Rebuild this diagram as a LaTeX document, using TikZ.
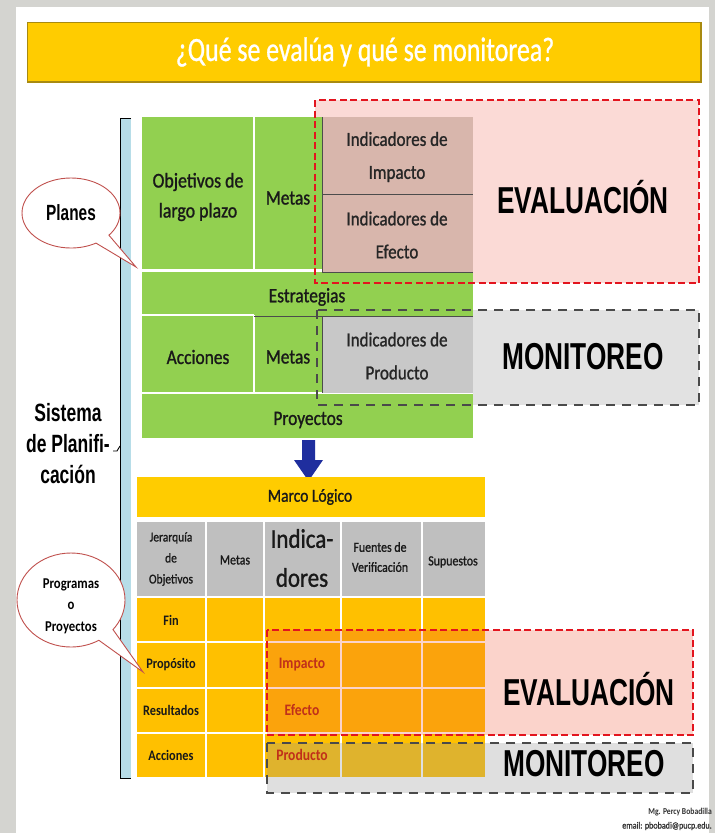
\documentclass[tikz,border=0pt]{standalone}
\usepackage{fontspec}
\usetikzlibrary{shapes.callouts,shapes.geometric}
\newfontfamily\calf[FakeStretch=0.85,FakeBold=1.1]{Carlito}
\newfontfamily\calb[FakeStretch=0.85]{Carlito Bold}
\newfontfamily\titlef[FakeStretch=0.76,FakeBold=0.8]{Carlito}
\newfontfamily\arn[FakeStretch=0.7]{Liberation Sans}
\definecolor{frame}{HTML}{D4D4D0}
\definecolor{gold}{HTML}{FFCC00}
\definecolor{goldedge}{HTML}{A88A10}
\definecolor{grn}{HTML}{92D050}
\definecolor{yel}{HTML}{FFC000}
\definecolor{hdr}{HTML}{BFBFBF}
\definecolor{pinkbox}{HTML}{FBDAD6}
\definecolor{pinkcell}{HTML}{D8B6AC}
\definecolor{monbox}{HTML}{E2E2E2}
\definecolor{moncell}{HTML}{C8C8C8}
\definecolor{dred}{HTML}{E3141E}
\definecolor{dgray}{HTML}{4A4A4A}
\definecolor{calred}{HTML}{C0504D}
\definecolor{lblue}{HTML}{B7DDE8}
\definecolor{arrowblue}{HTML}{1F2E9E}
\definecolor{redtxt}{HTML}{C0301A}
\definecolor{evalov}{HTML}{F05030}
\definecolor{monov}{HTML}{969696}
\begin{document}
\begin{tikzpicture}[x=1pt,y=-1pt,
  gtxt/.style={font=\calf\fontsize{20.5}{30}\selectfont, text=black!90, align=center, inner sep=0pt},
  itxt/.style={font=\calf\fontsize{20}{33}\selectfont, text=black!85, align=center, inner sep=0pt},
  big/.style={font=\arn\bfseries\fontsize{37.5}{40}\selectfont, text=black, inner sep=0pt},
  htxt/.style={font=\calf\fontsize{14}{21}\selectfont, text=black!90, align=center, inner sep=0pt},
  btxt/.style={font=\calb\fontsize{14.5}{18}\selectfont, text=black!90, inner sep=0pt},
  rtxt/.style={font=\calb\fontsize{16}{18}\selectfont, text=redtxt, inner sep=0pt},
  reddash/.style={draw=dred, line width=2.6pt, dash pattern=on 7pt off 3.5pt},
  graydash/.style={draw=dgray, line width=2.6pt, dash pattern=on 9pt off 7pt},
  sep/.style={draw=white, line width=1.3pt},
  dark/.style={draw=black!70, line width=0.9pt},
  callout/.style={ellipse callout, draw=calred, fill=white, line width=0.9pt, callout pointer arc=20, inner sep=0pt}
]
\useasboundingbox (0,0) rectangle (715,833);
% frame
\fill[frame] (0,0) rectangle (715,833);
\fill[white] (16,7) rectangle (709,833);
% title
\fill[goldedge] (27,22) rectangle (702,83);
\fill[gold] (28,23) rectangle (700,81);
\node[font=\titlef\fontsize{34}{40}\selectfont, text=white, inner sep=0pt] (title) at (365,52) {¿Qué se evalúa y qué se monitorea?};
% bracket
\fill[lblue] (121,118) rectangle (131,778);
\draw[line width=0.9pt] (131,118) -- (120,118) -- (120,778) -- (131,778);
\coordinate (bmid) at (120,446);
% top boxes fill
\fill[pinkbox] (315,100) rectangle (699,283);
\fill[monbox] (317,310) rectangle (699,405);
% green table
\fill[grn] (142,117) rectangle (473,438);
\draw[sep] (254,117) -- (254,270);
\draw[draw=white, line width=3pt] (142,270) -- (473,270);
\draw[sep] (142,315) -- (254,315);
\draw[sep] (254,315) -- (254,393);
\draw[sep] (142,393) -- (473,393);
\fill[pinkcell] (322,117) rectangle (473,272);
\draw[dark] (322,117) -- (322,272);
\draw[dark] (322,194) -- (473,194);
\draw[dark] (322,272) -- (473,272);
\fill[moncell] (322,317) rectangle (473,393);
\draw[dark] (254,316) -- (473,316);
\draw[dark] (322,316) -- (322,393);
\draw[reddash] (315,100) rectangle (699,283);
\draw[graydash] (317,310) rectangle (699,405);
% green texts
\node[gtxt, font=\calf\fontsize{21}{30}\selectfont] (obj) at (198,197) {Objetivos de\\largo plazo};
\node[gtxt] (metas1) at (288,198) {Metas};
\node[itxt] (ind1) at (397,157) {Indicadores de\\Impacto};
\node[itxt] (ind2) at (397,235) {Indicadores de\\Efecto};
\node[gtxt] (estr) at (307,297) {Estrategias};
\node[gtxt] (acc) at (198,357) {Acciones};
\node[gtxt] (metas2) at (288,357) {Metas};
\node[itxt] (ind3) at (397,356) {Indicadores de\\Producto};
\node[gtxt] (proy) at (308,420) {Proyectos};
\node[big] (eval1) at (583,197) {EVALUACIÓN};
\node[big] (mon1) at (583,357) {MONITOREO};
% arrow
\fill[arrowblue] (302,440) -- (315,440) -- (315,460) -- (323,460) -- (308.5,481) -- (294,460) -- (302,460) -- cycle;
% marco logico table
\fill[gold] (137,477) rectangle (485,517);
\fill[hdr] (137,522) rectangle (485,596);
\fill[yel] (137,598) rectangle (485,777);
\foreach \xx in {206,264,341,422} \draw[sep] (\xx,522) -- (\xx,777);
\foreach \yy in {642,688,733} \draw[sep] (137,\yy) -- (485,\yy);
\fill[evalov, opacity=0.25] (267,630) rectangle (693,735);
\fill[monov, opacity=0.3] (267,743) rectangle (693,793);
\draw[reddash] (267,630) rectangle (693,735);
\draw[graydash] (267,743) rectangle (693,793);
\node[gtxt, font=\calf\fontsize{18.3}{22}\selectfont] (marco) at (310,497) {Marco Lógico};
\node[htxt, font=\calf\fontsize{13.5}{21}\selectfont] (jer) at (171,559) {Jerarquía\\de\\Objetivos};
\node[htxt] (metash) at (235,560) {Metas};
\node[htxt, font=\calf\fontsize{27}{39}\selectfont] (indh) at (302,558) {Indica-\\dores};
\node[htxt, font=\calf\fontsize{14}{20}\selectfont] (fue) at (380,557) {Fuentes de\\Verificación};
\node[htxt] (sup) at (453,562) {Supuestos};
\node[btxt] (fin) at (171,620) {Fin};
\node[btxt] (prop) at (171,665) {Propósito};
\node[btxt] (res) at (171,710) {Resultados};
\node[btxt] (accb) at (171,755) {Acciones};
\node[rtxt] (imp) at (302,665) {Impacto};
\node[rtxt] (efe) at (302,710) {Efecto};
\node[rtxt] (prod) at (302,755) {Producto};
\node[big] (eval2) at (589,689) {EVALUACIÓN};
\node[big] (mon2) at (584,764) {MONITOREO};
% left labels
\node[callout, minimum width=98pt, minimum height=70pt, callout absolute pointer={(136,267)}, font=\arn\bfseries\fontsize{22}{26}\selectfont] (planes) at (71,213) {Planes};
\node[callout, minimum width=108pt, minimum height=94pt, callout absolute pointer={(143,672)}] (prog) at (71,600) {};
\node[font=\calb\fontsize{15}{21.5}\selectfont, align=center, inner sep=0pt] (progt) at (71,606) {Programas\\o\\Proyectos};
\node[font=\arn\bfseries\fontsize{25}{31}\selectfont, align=center, inner sep=0pt] (sis) at (68,444) {Sistema\\de Planifi-\\cación};
\draw[line width=0.9pt] (113,451) -- (117,451) -- (bmid);
% footer
\node[font=\calb\fontsize{9}{10}\selectfont, anchor=east, inner sep=0pt, text=black!80] (auth) at (712,812) {Mg. Percy Bobadilla};
\node[font=\calf\fontsize{9.5}{10}\selectfont, anchor=east, inner sep=0pt, text=black!80] (mail) at (712,826) {email: pbobadi@pucp.edu.};
\end{tikzpicture}
\end{document}
